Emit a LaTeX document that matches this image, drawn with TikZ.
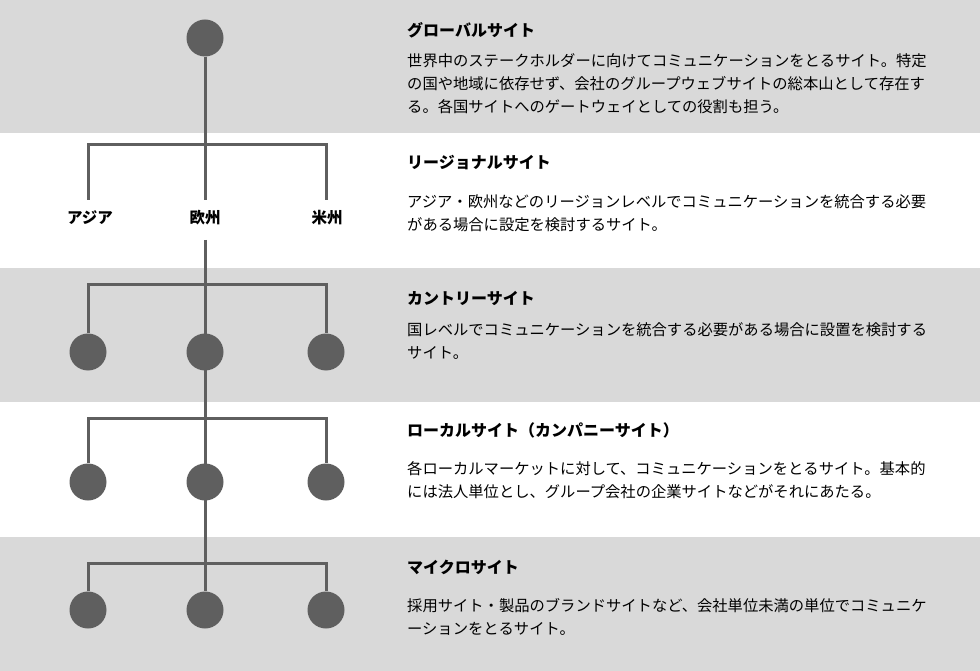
\documentclass[tikz,border=0pt]{standalone}
\usepackage{fontspec}
\setmainfont{Noto Sans CJK JP}
\usetikzlibrary{positioning}
\definecolor{bandgray}{HTML}{D9D9D9}
\definecolor{linegray}{HTML}{5F5F5F}
\tikzset{
  x=1pt, y=-1pt,
  dot/.style={circle, fill=linegray, minimum size=37pt, inner sep=0pt}, % filled site marker
  link/.style={draw=linegray, line width=3pt},
  title/.style={anchor=west, font=\fontsize{16}{18}\selectfont\bfseries, inner sep=0pt},
  body/.style={anchor=north west, align=left, font=\fontsize{15.3}{23}\selectfont, inner sep=0pt},
  area/.style={font=\fontsize{15.5}{18}\selectfont\bfseries, inner sep=0pt},
}
\begin{document}
\begin{tikzpicture}
  \useasboundingbox (0,0) rectangle (980,671);
  % bands
  \fill[bandgray] (0,0) rectangle (980,133);
  \fill[bandgray] (0,268) rectangle (980,402);
  \fill[bandgray] (0,537) rectangle (980,671);

  % trunk
  \node[dot] (g) at (205,38) {};
  \coordinate (r) at (205,145);
  \coordinate (rb) at (205,240);
  \coordinate (c) at (205,284);
  \coordinate (l) at (205,418);
  \coordinate (m) at (205,563);
  \draw[link] (g) -- (r) (rb) -- (c) -- (l) -- (m);

  % regional
  \draw[link] (88,200) |- (326,145) -- (326,200) (205,145) -- (205,200);
  \node[area] (asia) at (90,218) {アジア};
  \node[area] (eu) at (205,218) {欧州};
  \node[area] (us) at (327,218) {米州};

  % country, local, micro
  \foreach \lvl/\y/\cy in {c/284/352, l/418/482, m/563/610}{
    \node[dot] (\lvl1) at (88,\cy) {};
    \node[dot] (\lvl2) at (205,\cy) {};
    \node[dot] (\lvl3) at (326,\cy) {};
    \draw[link] (\lvl1) |- (326,\y) -- (\lvl3);
    \draw[link] (205,\y) -- (\lvl2);
  }

  % texts
  \node[title] (tg) at (407,30) {グローバルサイト};
  \node[body] at (407,53) {世界中のステークホルダーに向けてコミュニケーションをとるサイト。特定\\の国や地域に依存せず、会社のグループウェブサイトの総本山として存在す\\る。各国サイトへのゲートウェイとしての役割も担う。};
  \node[title] (tr) at (407,163) {リージョナルサイト};
  \node[body] at (407,194) {アジア・欧州などのリージョンレベルでコミュニケーションを統合する必要\\がある場合に設定を検討するサイト。};
  \node[title] (tc) at (407,298) {カントリーサイト};
  \node[body] at (407,322) {国レベルでコミュニケーションを統合する必要がある場合に設置を検討する\\サイト。};
  \node[title] (tl) at (407,430) {ローカルサイト（カンパニーサイト）};
  \node[body] at (407,461) {各ローカルマーケットに対して、コミュニケーションをとるサイト。基本的\\には法人単位とし、グループ会社の企業サイトなどがそれにあたる。};
  \node[title] (tm) at (407,567) {マイクロサイト};
  \node[body] at (407,598) {採用サイト・製品のブランドサイトなど、会社単位未満の単位でコミュニケ\\ーションをとるサイト。};
\end{tikzpicture}
\end{document}
